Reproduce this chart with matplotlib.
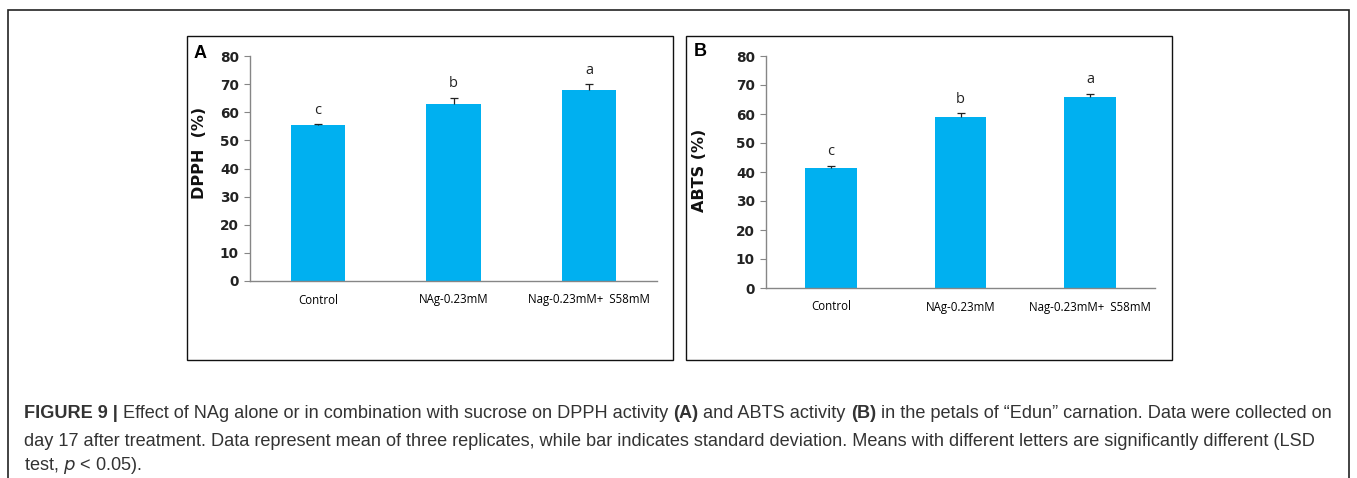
import numpy as np
import matplotlib.pyplot as plt
from matplotlib.patches import Rectangle

#Data
categories = ['Control', 'NAg-0.23mM', 'Nag-0.23mM+  S58mM']
dpph = [55.5, 63.0, 68.0]
dpph_err = [0.3, 2.2, 2.0]
dpph_letters = ['c', 'b', 'a']
abts = [41.5, 59.0, 66.0]
abts_err = [0.7, 1.2, 1.0]
abts_letters = ['c', 'b', 'a']

barColor = '#00B0F0'
axisColor = '#868686'
W, H = 1357, 478

plt.rcParams['font.family'] = ['Open Sans', 'DejaVu Sans']

fig = plt.figure(figsize=(W/100, H/100), dpi=100)

def px(x0, y0, x1, y1):
    #pixel box -> figure fraction [left, bottom, width, height]
    return [x0/W, 1 - y1/H, (x1-x0)/W, (y1-y0)/H]

def drawPanel(rect, vals, errs, letters, ylabel, tag, labelXY, tagXY):
    ax = fig.add_axes(rect)
    x = np.arange(len(vals))
    ax.bar(x, vals, width=0.4, color=barColor, zorder=2)
    eb = ax.errorbar(x, vals, yerr=[np.zeros(len(errs)), errs], fmt='none',
                     ecolor='#222222', elinewidth=0.9, capsize=3, capthick=0.9, zorder=3)
    eb[1][0].set_visible(False)
    for xi, v, e, l in zip(x, vals, errs, letters):
        ax.text(xi, v + e + 2.3, l, ha='center', va='bottom', fontsize=10.5, color='#222222')
    ax.set_xlim(-0.5, len(vals) - 0.5)
    ax.set_ylim(0, 80)
    ax.set_yticks(range(0, 81, 10))
    ax.set_xticks(x)
    ax.set_xticklabels(categories, fontsize=8.3)
    ax.tick_params(axis='x', length=0, pad=9)
    ax.tick_params(axis='y', length=4, width=0.8, color=axisColor, pad=4)
    for t in ax.get_yticklabels():
        t.set_fontweight('bold')
        t.set_family('DejaVu Sans')
        t.set_fontsize(9.8)
        t.set_color('#222222')
    for s in ['top', 'right']:
        ax.spines[s].set_visible(False)
    for s in ['left', 'bottom']:
        ax.spines[s].set_color(axisColor)
        ax.spines[s].set_linewidth(1.0)
    ax.set_ylabel(ylabel, fontsize=11.5, fontweight='bold', family='DejaVu Sans', color='#111111')
    #label position given in pixels, converted to axes fraction
    ax.yaxis.set_label_coords((labelXY[0]/W - rect[0]) / rect[2],
                              ((1 - labelXY[1]/H) - rect[1]) / rect[3])
    fig.text(tagXY[0]/W, 1 - tagXY[1]/H, tag, fontsize=13, fontweight='bold',
             family=['Liberation Sans'], ha='center', va='center')
    return ax

#panel boxes
fig.patches.append(Rectangle((8/W, -0.1), 1341/W, 1.1 - 10/H, transform=fig.transFigure,
                             fill=False, edgecolor='#222222', linewidth=1.2))
fig.patches.append(Rectangle((187/W, 1 - 360/H), 486/W, 324/H, transform=fig.transFigure,
                             fill=False, edgecolor='#111111', linewidth=1.0))
fig.patches.append(Rectangle((686/W, 1 - 360/H), 486/W, 324/H, transform=fig.transFigure,
                             fill=False, edgecolor='#111111', linewidth=1.0))

drawPanel(px(250, 56, 657, 281), dpph, dpph_err, dpph_letters, 'DPPH  (%)', 'A', (207, 153), (200, 53))
drawPanel(px(766, 56, 1155, 288), abts, abts_err, abts_letters, 'ABTS (%)', 'B', (707, 170), (700, 52))

#caption
capFont = ['Liberation Sans', 'DejaVu Sans']
capSize = 13.1
line1 = [('FIGURE 9 | ', 'bold'), ('Effect of NAg alone or in combination with sucrose on DPPH activity ', 'normal'),
         ('(A)', 'bold'), (' and ABTS activity ', 'normal'), ('(B)', 'bold'),
         (' in the petals of \u201cEdun\u201d carnation. Data were collected on', 'normal')]
renderer = fig.canvas.get_renderer()
xpos = 24
for txt, wt in line1:
    t = fig.text(xpos/W, 1 - 413/H, txt, fontsize=capSize, fontweight=wt, family=capFont,
                 va='center', color='#333333')
    bb = t.get_window_extent(renderer=renderer)
    xpos += bb.width
fig.text(24/W, 1 - 441/H, 'day 17 after treatment. Data represent mean of three replicates, while bar indicates standard deviation. '
         'Means with different letters are significantly different (LSD', fontsize=capSize, family=capFont,
         va='center', color='#333333')
fig.text(24/W, 1 - 466/H, 'test, $p$ < 0.05).', fontsize=capSize, family=capFont, va='center', color='#333333')

fig.savefig('out.png', dpi=100)
